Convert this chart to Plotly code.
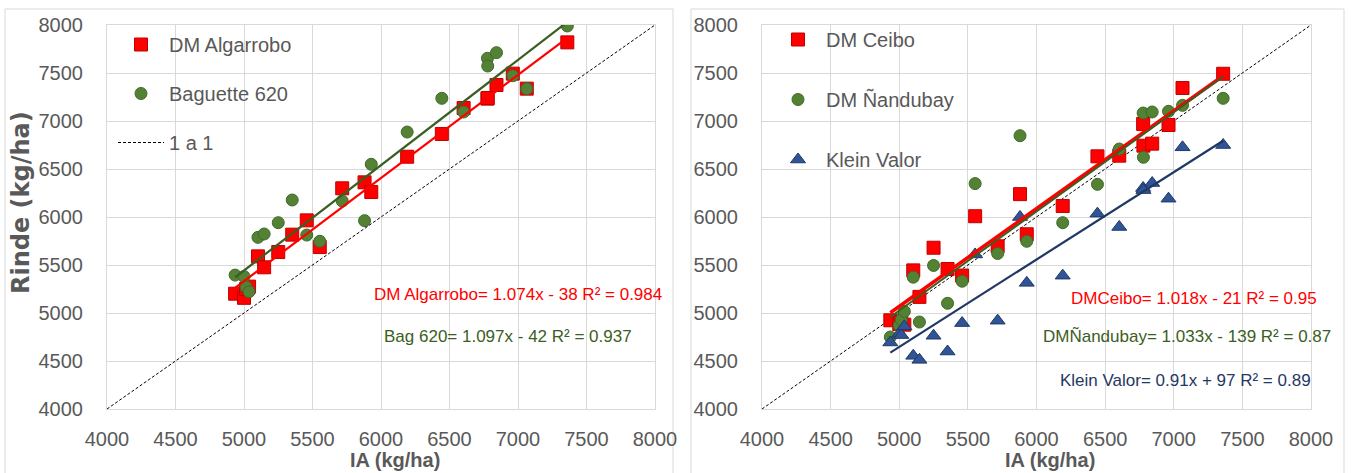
import plotly.graph_objects as go

# ---------------- data ----------------
IA = [4935, 5000, 5015, 5037, 5102, 5147, 5250, 5352, 5458, 5553, 5717,
      5880, 5929, 6191, 6444, 6603, 6777, 6779, 6843, 6962, 7064, 7360]

dm_algarrobo = [5201, 5158, 5250, 5275, 5590, 5476, 5635, 5816, 5965, 5687, 6299,
                6361, 6260, 6628, 6865, 7135, 7233, 7240, 7375, 7493, 7337, 7819]
baguette_620 = [5395, 5380, 5271, 5222, 5788, 5823, 5941, 6177, 5812, 5747, 6167,
                5962, 6549, 6885, 7236, 7094, 7653, 7573, 7712, 7472, 7337, 7990]

dm_ceibo = [4924, 4885, 4905, 4878, 5444, 5168, 5680, 5458, 5390, 6008, 5695,
            6238, 5820, 6115, 6632, 6639, 6969, 6743, 6764, 6958, 7344, 7492]
dm_nandubay = [4750, 4871, 4930, 5017, 5373, 4906, 5495, 5101, 5331, 6348, 5620,
               6847, 5747, 5941, 6340, 6708, 7083, 6622, 7094, 7101, 7163, 7236]
klein_valor = [4693, 4784, 4770, 4861, 4554, 4512, 4763, 4599, 4895, 5610, 4920,
               6000, 5314, 5389, 6035, 5896, 6302, 6280, 6354, 6191, 6726, 6750]

line_1a1 = [4000, 8000]

# trendline coefficients (as printed on the chart)
fit_names = ["DM Algarrobo", "Bag 620", "DMCeibo", "DMÑandubay", "Klein Valor"]
fit_slopes = [1.074, 1.097, 1.018, 1.033, 0.91]
fit_intercepts = [-38, -42, -21, -139, 97]
fit_labels = ["DM Algarrobo= 1.074x - 38 R² = 0.984",
              "Bag 620= 1.097x - 42 R² = 0.937",
              "DMCeibo= 1.018x - 21 R² = 0.95",
              "DMÑandubay= 1.033x - 139 R² = 0.87",
              "Klein Valor= 0.91x + 97 R² = 0.89"]

tick_vals = [4000, 4500, 5000, 5500, 6000, 6500, 7000, 7500, 8000]

# ---------------- style ----------------
W, H = 1351, 473
RED = "#FF0000"
GREEN = "#548235"
GREEN_LINE = "#3B5E22"
BLUE = "#2F5597"
NAVY = "#1F3864"
GRAY = "#595959"
GRID = "#D9D9D9"
FONT = "Liberation Sans, Arial, sans-serif"


def px_x(p):
    return p / W


def px_y(p):
    return (H - p) / H


fig = go.Figure()


def trend_y(i, xs):
    return [fit_slopes[i] * x + fit_intercepts[i] for x in xs]


xr = [min(IA), max(IA)]

# ---- left panel ----
fig.add_trace(go.Scatter(x=IA, y=dm_algarrobo, mode="markers", name="DM Algarrobo",
                         marker=dict(symbol="square", size=13, color=RED,
                                     line=dict(color="#C00000", width=1)),
                         xaxis="x", yaxis="y", legend="legend", legendgroup="a1"))
fig.add_trace(go.Scatter(x=IA, y=baguette_620, mode="markers", name="Baguette 620",
                         marker=dict(symbol="circle", size=12, color=GREEN,
                                     line=dict(color="#3F6A2A", width=1)),
                         xaxis="x", yaxis="y", legend="legend", legendgroup="a2"))
fig.add_trace(go.Scatter(x=line_1a1, y=line_1a1, mode="lines", name="1 a 1",
                         line=dict(color="black", width=1, dash="3px,2px"),
                         xaxis="x", yaxis="y", legend="legend", legendgroup="a3"))
fig.add_trace(go.Scatter(x=xr, y=trend_y(0, xr), mode="lines", showlegend=False,
                         line=dict(color=RED, width=2.2), xaxis="x", yaxis="y"))
fig.add_trace(go.Scatter(x=xr, y=trend_y(1, xr), mode="lines", showlegend=False,
                         line=dict(color=GREEN_LINE, width=2.2), xaxis="x", yaxis="y"))

# ---- right panel ----
fig.add_trace(go.Scatter(x=line_1a1, y=line_1a1, mode="lines", showlegend=False,
                         line=dict(color="black", width=1, dash="3px,2px"),
                         xaxis="x2", yaxis="y2"))
fig.add_trace(go.Scatter(x=IA, y=dm_ceibo, mode="markers", name="DM Ceibo",
                         marker=dict(symbol="square", size=13, color=RED,
                                     line=dict(color="#C00000", width=1)),
                         xaxis="x2", yaxis="y2", legend="legend2", legendgroup="b1"))
fig.add_trace(go.Scatter(x=IA, y=dm_nandubay, mode="markers", name="DM Ñandubay",
                         marker=dict(symbol="circle", size=12, color=GREEN,
                                     line=dict(color="#3F6A2A", width=1)),
                         xaxis="x2", yaxis="y2", legend="legend2", legendgroup="b2"))
fig.add_trace(go.Scatter(x=IA, y=klein_valor, mode="markers", name="Klein Valor",
                         marker=dict(symbol="triangle-up", size=13, color=BLUE,
                                     line=dict(color="#203864", width=1)),
                         xaxis="x2", yaxis="y2", legend="legend2", legendgroup="b3"))
fig.add_trace(go.Scatter(x=xr, y=trend_y(2, xr), mode="lines", showlegend=False,
                         line=dict(color=RED, width=3.5), xaxis="x2", yaxis="y2"))
fig.add_trace(go.Scatter(x=xr, y=trend_y(3, xr), mode="lines", showlegend=False,
                         line=dict(color=GREEN_LINE, width=2), xaxis="x2", yaxis="y2"))
fig.add_trace(go.Scatter(x=xr, y=trend_y(4, xr), mode="lines", showlegend=False,
                         line=dict(color=NAVY, width=2.2), xaxis="x2", yaxis="y2"))

axis_common = dict(range=[4000, 8000], tickvals=tick_vals, showgrid=True,
                   gridcolor=GRID, gridwidth=1, zeroline=False, showline=True,
                   linecolor=GRID, linewidth=1, mirror=True, ticks="",
                   automargin=False,
                   tickfont=dict(family=FONT, size=20, color=GRAY))

y_dom = [px_y(409), px_y(25)]
fig.update_layout(
    template="none",
    width=W, height=H,
    margin=dict(l=0, r=0, t=0, b=0, autoexpand=False),
    paper_bgcolor="white", plot_bgcolor="white",
    xaxis=dict(domain=[px_x(107), px_x(655)], anchor="y", ticklabelstandoff=12, **axis_common),
    yaxis=dict(domain=y_dom, anchor="x", ticklabelstandoff=19, **axis_common),
    xaxis2=dict(domain=[px_x(762), px_x(1311)], anchor="y2", ticklabelstandoff=12, **axis_common),
    yaxis2=dict(domain=y_dom, anchor="x2", ticklabelstandoff=19, **axis_common),
    legend=dict(x=px_x(113), y=px_y(25), xanchor="left", yanchor="top",
                font=dict(family=FONT, size=20, color=GRAY), bgcolor="rgba(0,0,0,0)",
                tracegroupgap=20, itemwidth=46),
    legend2=dict(x=px_x(770), y=px_y(20), xanchor="left", yanchor="top",
                 font=dict(family=FONT, size=20, color=GRAY), bgcolor="rgba(0,0,0,0)",
                 tracegroupgap=31, itemwidth=46),
    showlegend=True,
)

# chart area boxes
fig.add_shape(type="rect", xref="paper", yref="paper", x0=px_x(5), x1=px_x(673),
              y0=-0.2, y1=px_y(9), line=dict(color=GRID, width=1), layer="below")
fig.add_shape(type="rect", xref="paper", yref="paper", x0=px_x(691), x1=px_x(1344),
              y0=-0.2, y1=px_y(9), line=dict(color=GRID, width=1), layer="below")

# axis titles
fig.add_annotation(text="<b>Rinde (kg/ha)</b>", xref="paper", yref="paper",
                   x=px_x(21), y=px_y(203), xanchor="center", yanchor="middle",
                   textangle=-90, showarrow=False,
                   font=dict(family="DejaVu Sans", size=24, color=GRAY))
fig.add_annotation(text="<b>IA (kg/ha)</b>", xref="paper", yref="paper",
                   x=px_x(395), y=0, xanchor="center", yanchor="bottom", showarrow=False,
                   font=dict(family=FONT, size=20, color=GRAY))
fig.add_annotation(text="<b>IA (kg/ha)</b>", xref="paper", yref="paper",
                   x=px_x(1050), y=0, xanchor="center", yanchor="bottom", showarrow=False,
                   font=dict(family=FONT, size=20, color=GRAY))

# equation labels
eq_pos = [("x", "y", 7000, 5188, RED),
          ("x", "y", 6927, 4760, GREEN_LINE),
          ("x2", "y2", 7151, 5146, RED),
          ("x2", "y2", 7100, 4760, GREEN_LINE),
          ("x2", "y2", 7085, 4302, NAVY)]
for lab, (xa, ya, xx, yy, col) in zip(fit_labels, eq_pos):
    fig.add_annotation(text=lab, xref=xa, yref=ya, x=xx, y=yy, showarrow=False,
                       xanchor="center", yanchor="middle",
                       font=dict(family=FONT, size=17, color=col))

fig.write_html("out.html")
